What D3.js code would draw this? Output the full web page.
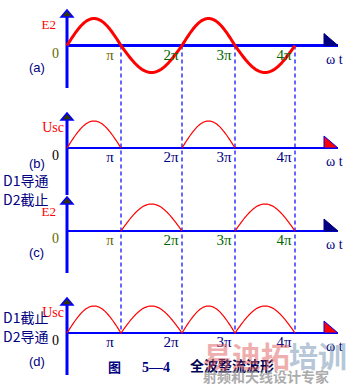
<!DOCTYPE html>
<html><head><meta charset="utf-8">
<script src="https://cdn.jsdelivr.net/npm/d3@7"></script>
<style>body{margin:0;background:#fff}svg{display:block}</style>
</head><body>
<script>
// ---- data ----
const tickValues = [1, 2, 3, 4];             // multiples of π
const tickLabels = ["π", "2π", "3π", "4π"];
const panels = ["a", "b", "c", "d"];
const panelLabels = ["(a)", "(b)", "(c)", "(d)"];
const yLabels = ["E2", "Usc", "E2", "Usc"];
const waveKinds = ["sine", "halfPos", "halfNeg", "full"];
const amplitude = [1, 1, 1, 1];
const diodeB = ["D1导通", "D2截止"];
const diodeD = ["D1截止", "D2导通"];
const caption = ["图", "5—4", "全波整流波形"];

// ---- layout ----
const W = 354, H = 385;
const svg = d3.select("body").append("svg").attr("width", W).attr("height", H);
const x = d3.scaleLinear().domain([0, 1, 2, 3, 4]).range([67, 121, 182, 235, 295]);
const xAxisEnd = 338;
const base = [45.5, 148, 231, 333];
const axTop = [10, 113, 197, 298];
const axBot = [88, 195, 273, 375];
const A = 27;
const navy = "#000080", blue = "#0000ff", olive = "#666600", green = "#006600";
const tickColors = [[olive, green, green, green], [navy, navy, navy, navy], [olive, green, green, green], [navy, navy, navy, navy]];
const zeroColor = [olive, "#000", olive, "#000"];

// dashed guides
svg.append("g").selectAll("line").data(tickValues).join("line")
  .attr("x1", d => x(d)).attr("x2", d => x(d))
  .attr("y1", base[0]).attr("y2", base[3])
  .attr("stroke", blue).attr("stroke-width", 1.2).attr("stroke-dasharray", "4,3");

function waveVal(kind, t) { // t in units of π
  const s = Math.sin(Math.PI * t);
  if (kind === "sine") return s;
  if (kind === "halfPos") return s > 0 ? s : null;
  if (kind === "halfNeg") return s < 0 ? -s : null;
  return Math.abs(s);
}

panels.forEach((p, i) => {
  const g = svg.append("g");
  const y = d3.scaleLinear().domain([-1, 1]).range([base[i] + A * amplitude[i], base[i] - A * amplitude[i]]);
  g.append("line").attr("x1", 67).attr("x2", xAxisEnd).attr("y1", base[i]).attr("y2", base[i])
    .attr("stroke", blue).attr("stroke-width", i === 0 ? 3 : 2);
  g.append("path")
    .attr("d", `M324,${base[i] - 12} L${xAxisEnd},${base[i]} L324,${base[i]} Z`)
    .attr("fill", (i === 1 || i === 3) ? "#ff0000" : navy)
    .attr("stroke", (i === 1 || i === 3) ? blue : navy).attr("stroke-width", 1);
  g.append("line").attr("x1", 67).attr("x2", 67).attr("y1", axTop[i] + 4).attr("y2", axBot[i])
    .attr("stroke", blue).attr("stroke-width", 3);
  g.append("path")
    .attr("d", `M61,${axTop[i] + 7} L67,${axTop[i]} L73,${axTop[i] + 7} Z`)
    .attr("fill", "#333300").attr("stroke", blue).attr("stroke-width", 1.5);
  const samples = d3.range(0, 4.0001, 0.02).map(t => ({ t, v: waveVal(waveKinds[i], t) }));
  samples.forEach(s => { if (s.v === null && Math.abs(Math.sin(Math.PI * s.t)) < 1e-6) s.v = 0; });
  const line = d3.line().defined(d => d.v !== null).x(d => x(d.t)).y(d => y(d.v));
  g.append("path").datum(samples).attr("d", line).attr("fill", "none")
    .attr("stroke", "#ff0000").attr("stroke-width", i === 0 ? 3 : 1.2);
  g.selectAll("text.tick").data(tickValues).join("text")
    .attr("x", d => x(d) - 11).attr("y", base[i] + 14)
    .attr("text-anchor", "middle")
    .attr("fill", (d, k) => tickColors[i][k])
    .attr("font-family", "Liberation Serif, serif").attr("font-size", 15)
    .text((d, k) => tickLabels[k]);
  g.append("text").attr("x", 52).attr("y", base[i] + 12).attr("fill", zeroColor[i])
    .attr("font-family", "Liberation Serif, serif").attr("font-size", 14).text("0");
  g.append("text").attr("x", yLabels[i] === "E2" ? 56 : 64).attr("y", axTop[i] + 19)
    .attr("text-anchor", "end").attr("fill", "#ff0000")
    .attr("font-family", "Liberation Serif, serif").attr("font-size", yLabels[i] === "E2" ? 13 : 14).text(yLabels[i]);
  g.append("text").attr("x", 326).attr("y", base[i] + 18).attr("fill", navy)
    .attr("font-family", "Liberation Serif, serif").attr("font-size", 14).text("ω t");
  const ply = [72, 168, 257, 366][i];
  g.append("text").attr("x", 29).attr("y", ply).attr("fill", navy)
    .attr("font-family", "Liberation Sans, sans-serif").attr("font-size", 13).text(panelLabels[i]);
});

const cjk = "Noto Sans CJK SC, sans-serif";
svg.append("text").attr("x", 3).attr("y", 186).attr("fill", navy).attr("font-family", cjk).attr("font-size", 14).text(diodeB[0]);
svg.append("text").attr("x", 3).attr("y", 205).attr("fill", navy).attr("font-family", cjk).attr("font-size", 14).text(diodeB[1]);
svg.append("text").attr("x", 3).attr("y", 323).attr("fill", navy).attr("font-family", cjk).attr("font-size", 14).text(diodeD[0]);
svg.append("text").attr("x", 3).attr("y", 342).attr("fill", navy).attr("font-family", cjk).attr("font-size", 14).text(diodeD[1]);

svg.append("text").attr("x", 108).attr("y", 372).attr("fill", navy).attr("font-family", cjk).attr("font-weight", "bold").attr("font-size", 13).text(caption[0]);
svg.append("text").attr("x", 142).attr("y", 372).attr("fill", navy).attr("font-family", "Liberation Serif, serif").attr("font-weight", "bold").attr("font-size", 14).text(caption[1]);
svg.append("text").attr("x", 190).attr("y", 371).attr("fill", "#000050").attr("font-family", cjk).attr("font-weight", "bold").attr("font-size", 14).text(caption[2]);

// watermark
svg.append("text").attr("x", 203).attr("y", 368).attr("fill", "#e06060").attr("opacity", 0.5)
  .attr("font-family", cjk).attr("font-weight", "bold").attr("font-size", 29).text("易迪拓");
svg.append("text").attr("x", 289).attr("y", 368).attr("fill", "#7090b0").attr("opacity", 0.5)
  .attr("font-family", cjk).attr("font-weight", "bold").attr("font-size", 29).text("培训");
svg.append("text").attr("x", 203).attr("y", 382).attr("fill", "#888").attr("opacity", 0.7)
  .attr("font-family", cjk).attr("font-weight", "bold").attr("font-size", 14).text("射频和天线设计专家");
</script>
</body></html>
